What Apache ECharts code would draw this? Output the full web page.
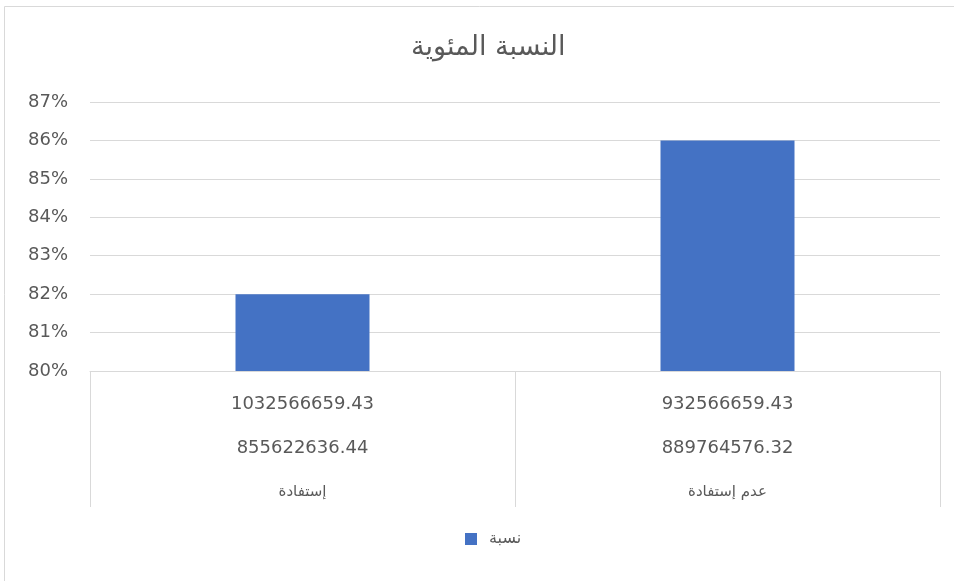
<!DOCTYPE html>
<html>
<head>
<meta charset="utf-8">
<script src="https://cdn.jsdelivr.net/npm/echarts@6/dist/echarts.min.js"></script>
<style>
  html, body { margin: 0; padding: 0; background: #fff; }
  #chart { width: 954px; height: 581px; }
</style>
</head>
<body>
<div id="chart"></div>
<script>
// three levels of the category axis, top row first
let level1 = ["1032566659.43", "932566659.43"];
let level2 = ["855622636.44", "889764576.32"];
let level3 = ["إستفادة", "عدم إستفادة"];

let values = [82, 86]; // percent
let seriesName = "نسبة";

let yMin = 80, yMax = 87, yStep = 1;

const myChart = echarts.init(document.getElementById("chart"), null, {
  width: 954,
  height: 581,
});

let option = {
  animation: false,
  textStyle: { fontFamily: "DejaVu Sans, sans-serif" },
  graphic: [
    {
      // chart frame, only the left and top edges are in view
      type: "polyline",
      shape: { points: [[4.5, 600], [4.5, 6.5], [1000, 6.5]] },
      style: { fill: null, stroke: "#d9d9d9", lineWidth: 1 },
      silent: true,
    },
  ],
  title: {
    text: "النسبة المئوية",
    left: 406,
    top: 29,
    textStyle: { fontSize: 27, fontWeight: "normal", color: "#595959" },
  },
  legend: {
    data: [seriesName],
    bottom: 29,
    left: 460,
    itemWidth: 12,
    itemHeight: 12,
    icon: "rect",
    textStyle: { fontSize: 16, color: "#595959", padding: [0, 0, 0, 7] },
  },
  grid: { left: 90, right: 14, top: 102, bottom: 210 },
  xAxis: {
    type: "category",
    data: level3,
    boundaryGap: true,
    axisLine: { lineStyle: { color: "#d9d9d9" } },
    axisTick: { show: true, interval: 0, length: 136, lineStyle: { color: "#d9d9d9" } },
    axisLabel: {
      margin: 11,
      interval: 0,
      color: "#595959",
      formatter: (v, i) =>
        "{a|" + level1[i] + "}\n{a|" + level2[i] + "}\n{b|" + level3[i] + "}",
      rich: {
        a: { fontSize: 18, lineHeight: 44, color: "#595959" },
        b: { fontSize: 15, lineHeight: 44, color: "#595959" },
      },
    },
  },
  yAxis: {
    type: "value",
    min: yMin,
    max: yMax,
    interval: yStep,
    axisLine: { show: false },
    axisTick: { show: false },
    splitLine: { lineStyle: { color: "#d9d9d9" } },
    axisLabel: {
      formatter: "{value}%",
      fontSize: 18,
      color: "#595959",
      margin: 22,
    },
  },
  series: [
    {
      name: seriesName,
      type: "bar",
      data: values,
      barWidth: 134,
      itemStyle: { color: "#4472C4" },
    },
  ],
};

option && myChart.setOption(option);
</script>
</body>
</html>
